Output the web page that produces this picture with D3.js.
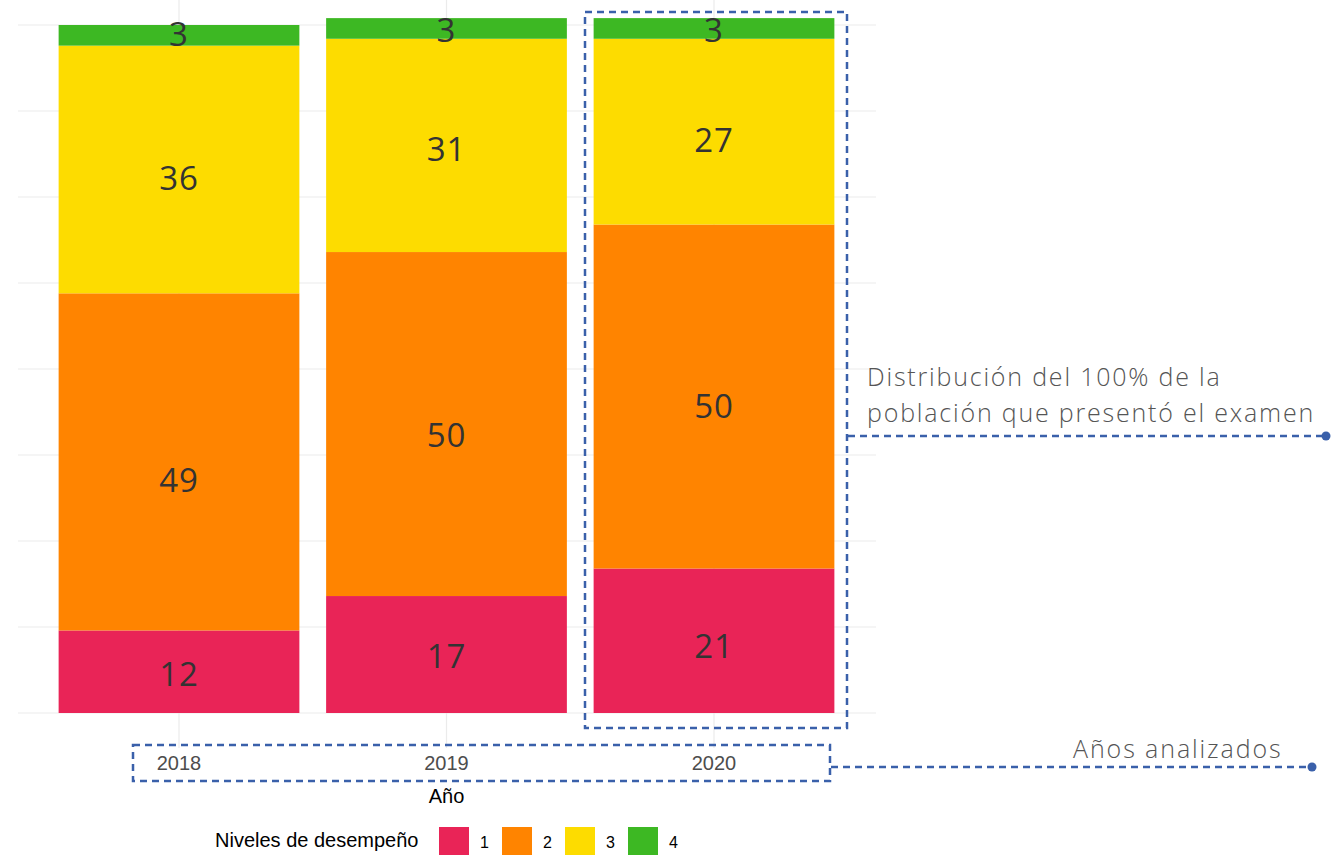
<!DOCTYPE html>
<html><head><meta charset="utf-8">
<script src="https://cdn.jsdelivr.net/npm/d3@7"></script>
<style>body{margin:0;background:#fff}svg{display:block}</style>
</head><body>
<svg id="c" width="1344" height="855"></svg>
<script>
const years = ["2018", "2019", "2020"];
const levels = ["1", "2", "3", "4"];
const level1 = [12, 17, 21];
const level2 = [49, 50, 50];
const level3 = [36, 31, 27];
const level4 = [3, 3, 3];
// where each value label sits on the value axis
const labelAt1 = [5.7, 8.3, 9.7];
const labelAt2 = [33.9, 40.4, 44.6];
const labelAt3 = [77.8, 82.0, 83.3];
const labelAt4 = [98.7, 99.3, 99.3];
const colors = ["#E92457", "#FF8400", "#FDDC00", "#3DB823"];
const yTicks = [0, 12.5, 25, 37.5, 50, 62.5, 75, 87.5, 100];
const xTitle = "Año";
const legendTitle = "Niveles de desempeño";
const note1 = ["Distribución del 100% de la", "población que presentó el examen"];
const note2 = "Años analizados";

const svg = d3.select("#c");
const data = years.map((y, i) => ({year: y, "1": level1[i], "2": level2[i], "3": level3[i], "4": level4[i]}));
const labelAt = [labelAt1, labelAt2, labelAt3, labelAt4];
const series = d3.stack().keys(levels)(data);

const x = d3.scaleBand().domain(years).range([45.25, 847.75]).paddingInner(0.1).paddingOuter(0.05);
const y = d3.scaleLinear().domain([0, 100]).range([713, 25]);

// grid
const grid = svg.append("g");
grid.selectAll("line.h").data(yTicks).join("line")
  .attr("x1", 18).attr("x2", 876)
  .attr("y1", d => y(d)).attr("y2", d => y(d))
  .attr("stroke", "#ebebeb").attr("stroke-width", 1.2);
grid.selectAll("line.v").data(years).join("line")
  .attr("x1", d => x(d) + x.bandwidth() / 2).attr("x2", d => x(d) + x.bandwidth() / 2)
  .attr("y1", 0).attr("y2", 748)
  .attr("stroke", "#ebebeb").attr("stroke-width", 1.2);

// bars
const g = svg.append("g");
series.forEach((s, k) => {
  g.selectAll(null).data(s).join("rect")
    .attr("x", d => x(d.data.year))
    .attr("width", x.bandwidth())
    .attr("y", d => y(d[1]))
    .attr("height", d => y(d[0]) - y(d[1]))
    .attr("fill", colors[k]);
});
series.forEach((s, k) => {
  g.selectAll(null).data(s).join("text")
    .attr("x", d => x(d.data.year) + x.bandwidth() / 2)
    .attr("y", (d, i) => y(labelAt[k][i]))
    .attr("dy", "0.36em")
    .attr("text-anchor", "middle")
    .attr("font-family", "'Open Sans', sans-serif")
    .attr("font-size", 33)
    .attr("letter-spacing", 1)
    .attr("fill", "#333333")
    .text(d => d[1] - d[0]);
});

// x axis labels
svg.append("g").selectAll("text").data(years).join("text")
  .attr("x", d => x(d) + x.bandwidth() / 2)
  .attr("y", 770)
  .attr("text-anchor", "middle")
  .attr("font-family", "'Liberation Sans', Arial, sans-serif")
  .attr("font-size", 20)
  .attr("fill", "#4d4d4d")
  .text(d => d);
svg.append("text")
  .attr("x", x("2019") + x.bandwidth() / 2).attr("y", 803)
  .attr("text-anchor", "middle")
  .attr("font-family", "'Liberation Sans', Arial, sans-serif")
  .attr("font-size", 20).attr("fill", "#000")
  .text(xTitle);

// legend
const leg = svg.append("g");
leg.append("text").attr("x", 215).attr("y", 847)
  .attr("font-family", "'Liberation Sans', Arial, sans-serif")
  .attr("font-size", 20).attr("fill", "#000").text(legendTitle);
levels.forEach((l, i) => {
  leg.append("rect").attr("x", 439 + i * 63).attr("y", 827).attr("width", 30).attr("height", 30).attr("fill", colors[i]);
  leg.append("text").attr("x", 480 + i * 63).attr("y", 848)
    .attr("font-family", "'Liberation Sans', Arial, sans-serif")
    .attr("font-size", 16).attr("fill", "#000").text(l);
});

// annotations
const blue = "#3A60AA";
const ann = svg.append("g").attr("fill", "none").attr("stroke", blue).attr("stroke-width", 2.5).attr("stroke-dasharray", "7,5");
ann.append("rect").attr("x", 585).attr("y", 12).attr("width", 262).attr("height", 716);
ann.append("line").attr("x1", 848).attr("x2", 1326).attr("y1", 436).attr("y2", 436);
ann.append("rect").attr("x", 133).attr("y", 745).attr("width", 697).attr("height", 36);
ann.append("line").attr("x1", 831).attr("x2", 1312).attr("y1", 767).attr("y2", 767);
svg.append("circle").attr("cx", 1326).attr("cy", 436).attr("r", 4.5).attr("fill", blue);
svg.append("circle").attr("cx", 1312).attr("cy", 767).attr("r", 4.5).attr("fill", blue);

const tf = "'Open Sans', sans-serif";
svg.append("text").attr("x", 867).attr("y", 386)
  .attr("font-family", tf).attr("font-weight", 300).attr("font-size", 25).attr("letter-spacing", 1.8).attr("fill", "#555")
  .text(note1[0]);
svg.append("text").attr("x", 867).attr("y", 422)
  .attr("font-family", tf).attr("font-weight", 300).attr("font-size", 25).attr("letter-spacing", 1.8).attr("fill", "#555")
  .text(note1[1]);
svg.append("text").attr("x", 1073).attr("y", 758)
  .attr("font-family", tf).attr("font-weight", 300).attr("font-size", 25).attr("letter-spacing", 1.9).attr("fill", "#555")
  .text(note2);
</script>
</body></html>
